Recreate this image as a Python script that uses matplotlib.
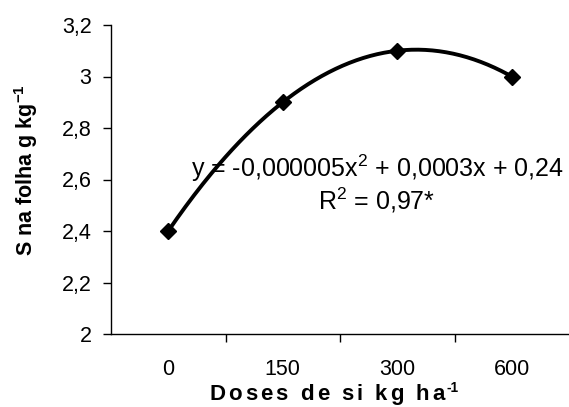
import numpy as np
import matplotlib
matplotlib.use("Agg")
import matplotlib.pyplot as plt
from matplotlib.ticker import FixedLocator, FuncFormatter
from matplotlib.transforms import blended_transform_factory

plt.rcParams['font.family'] = ['Liberation Sans', 'DejaVu Sans']
plt.rcParams['mathtext.fontset'] = 'custom'
plt.rcParams['mathtext.rm'] = 'Liberation Sans'
plt.rcParams['mathtext.bf'] = 'Liberation Sans:bold'
plt.rcParams['mathtext.it'] = 'Liberation Sans:italic'

doses = ['0', '150', '300', '600']
s_folha = [2.4, 2.9, 3.1, 3.0]
y_ticks = [2.0, 2.2, 2.4, 2.6, 2.8, 3.0, 3.2]

W, H = 569, 407
pos = np.arange(len(doses))

fig = plt.figure(figsize=(W / 100, H / 100), dpi=100)
ax = fig.add_axes([111 / W, 1 - 334 / H, 1 - 111 / W, (334 - 25) / H])

# polynomial trendline over category positions
coef = np.polyfit(pos, s_folha, 2)
xx = np.linspace(pos[0], pos[-1], 200)
ax.plot(xx, np.polyval(coef, xx), color='black', lw=2.8, solid_capstyle='round')
ax.plot(pos, s_folha, linestyle='none', marker='D', markersize=8, color='black')

ax.set_xlim(-0.5, len(doses) - 0.5)
ax.set_ylim(2.0, 3.2)
ax.set_yticks(y_ticks)
ax.yaxis.set_major_formatter(FuncFormatter(lambda v, p: ('%g' % v).replace('.', ',')))

ax.set_xticks(pos)
ax.set_xticklabels(doses)
ax.xaxis.set_minor_locator(FixedLocator(pos[:-1] + 0.5))
ax.tick_params(axis='x', which='major', length=0, pad=18, labelsize=15.5)
ax.tick_params(axis='x', which='minor', length=6, direction='out', width=1)
ax.tick_params(axis='y', length=6, direction='out', width=1, labelsize=15.5, pad=8)

for s in ['top', 'right']:
    ax.spines[s].set_visible(False)
for s in ['left', 'bottom']:
    ax.spines[s].set_linewidth(1)

ax.set_ylabel(r'S na folha g kg$^{\mathbf{-1}}$', fontsize=15.5, fontweight='bold')
ax.yaxis.set_label_coords((40 - 111) / (W - 111), (334 - 170) / 309)

# x label with wide letter spacing
renderer = fig.canvas.get_renderer()
xl_text = 'Doses de si kg ha'
xl_size = 16
track = 3.0


def text_width(s, size, **kw):
    t = fig.text(0, 0, s + 'I', fontsize=size, fontweight='bold', **kw)
    w = t.get_window_extent(renderer).width
    t.remove()
    t = fig.text(0, 0, 'I', fontsize=size, fontweight='bold', **kw)
    w -= t.get_window_extent(renderer).width
    t.remove()
    return w


sup_size = xl_size * 0.62
total = text_width(xl_text, xl_size) + track * (len(xl_text) - 1) + text_width('-1', sup_size) + 2
x0 = 334 - total / 2
base_y = 1 - 400 / H
for i, c in enumerate(xl_text):
    xi = x0 + text_width(xl_text[:i], xl_size) + track * i
    fig.text(xi / W, base_y, c, fontsize=xl_size, fontweight='bold', ha='left', va='baseline')
xs = x0 + text_width(xl_text, xl_size) + track * (len(xl_text) - 1) + 2
fig.text(xs / W, base_y + 8 / H, '-1', fontsize=sup_size, fontweight='bold', ha='left', va='baseline')

trans = blended_transform_factory(ax.transAxes, ax.transData)
eq_x = (377 - 111) / (W - 111)
ax.text(eq_x, 2.645, r'y = -0,000005x$^{\mathrm{2}}$ + 0,0003x + 0,24',
        transform=trans, fontsize=18, ha='center', va='center')
ax.text(eq_x, 2.52, r'R$^{\mathrm{2}}$ = 0,97*', transform=trans,
        fontsize=18, ha='center', va='center')

fig.savefig('out.png', dpi=100)
